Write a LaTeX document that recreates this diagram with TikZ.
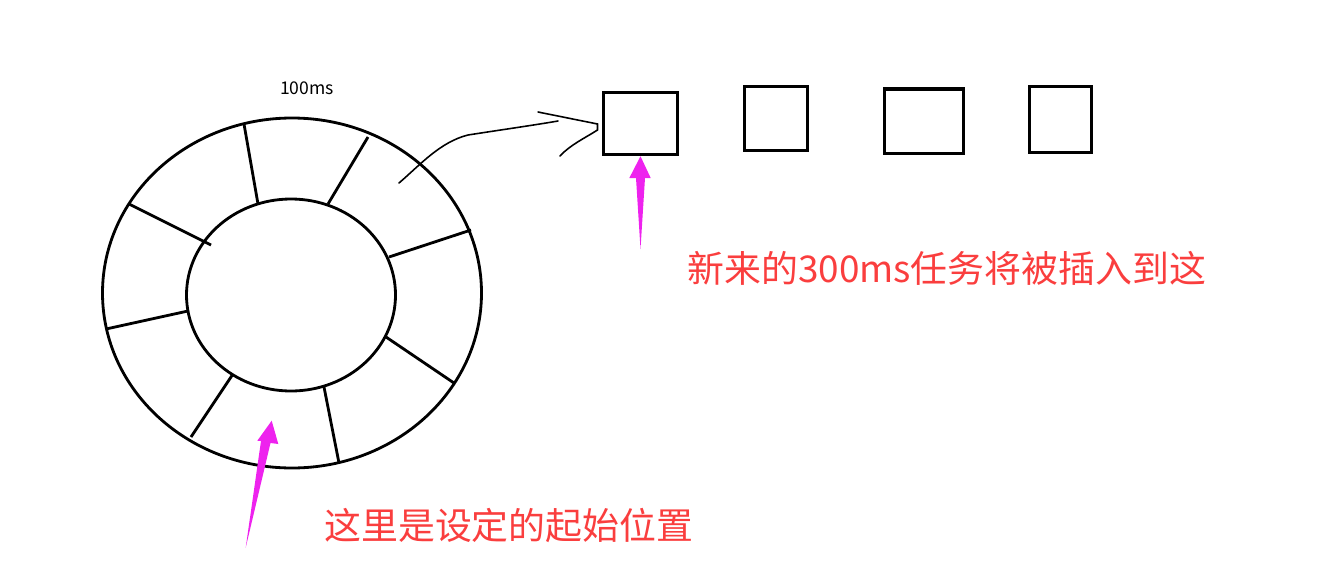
\documentclass[tikz,border=0pt]{standalone}
\usepackage{fontspec}
\setmainfont{Noto Sans CJK SC}
\usetikzlibrary{calc}
\definecolor{notered}{RGB}{250,62,62}
\definecolor{pointer}{RGB}{238,34,238}
\tikzset{
  ring/.style={line width=1.6pt},
  slot/.style={draw,line width=1.8pt,inner sep=0pt,outer sep=0pt},
  note/.style={text=notered,font=\fontsize{21}{25}\selectfont,inner sep=0pt,anchor=west},
  pointer/.style={fill=pointer}
}
\begin{document}
\begin{tikzpicture}[x=0.02cm,y=-0.02cm]
        \useasboundingbox (0,0) rectangle (1331,575);
        %% wheel
        \draw[ring] (292,293) ellipse [x radius=189.5, y radius=175];
        \draw[ring] (291,295) ellipse [x radius=104.5, y radius=96];
        \foreach \a/\b in {{(244,124)}/{(258,204)},{(368,137)}/{(328,204)},{(129,204)}/{(211,245)},
                           {(471,230)}/{(389,257)},{(106,329)}/{(188,311)},{(386,337)}/{(454,383)},
                           {(233,374)}/{(191,437)},{(324,387)}/{(339,463)}}
            \draw[ring] \a -- \b;
        \node[font=\fontsize{10}{12}\selectfont] (tick) at (307,88) {100ms};
        %% slots
        \node[slot,minimum width=1.48cm,minimum height=1.23cm] (slota) at (640.5,123.5) {};
        \node[slot,minimum width=1.25cm,minimum height=1.27cm] (slotb) at (776,118.5) {};
        \node[slot,minimum width=1.57cm,minimum height=1.29cm] (slotc) at (924,121.3) {};
        \node[slot,minimum width=1.24cm,minimum height=1.32cm] (slotd) at (1060.3,119.5) {};
        %% hand drawn arrow
        \coordinate (from) at (399,183);
        \coordinate (tip) at ($(slota.west)+(-6,0.5)$);
        \draw[line width=0.9pt,line cap=round] (from) .. controls (420,165) and (440,142) .. (468,135)
            .. controls (500,130) and (535,125) .. (558,121);
        \draw[line width=0.9pt,line cap=round] (538,112) -- (tip) -- ++(0,6)
            .. controls (585,138) and (570,145) .. (560,156);
        %% pointers
        \coordinate (taila) at (640.5,249);
        \fill[pointer] ($(slota.south)+(0,2)$) -- (650.7,178) -- (645,178) -- (taila) -- (636,178) -- (629.3,178) -- cycle;
        \coordinate (tailb) at (245.7,547.7);
        \fill[pointer] (271.7,420.7) -- (278.3,444) -- (270.5,443) -- (tailb) -- (261,441) -- (257.3,440.7) -- cycle;
        %% notes
        \node[note] (newtask) at (687,268) {新来的300ms任务将被插入到这};
        \node[note] (start) at (324,525) {这里是设定的起始位置};
\end{tikzpicture}
\end{document}
